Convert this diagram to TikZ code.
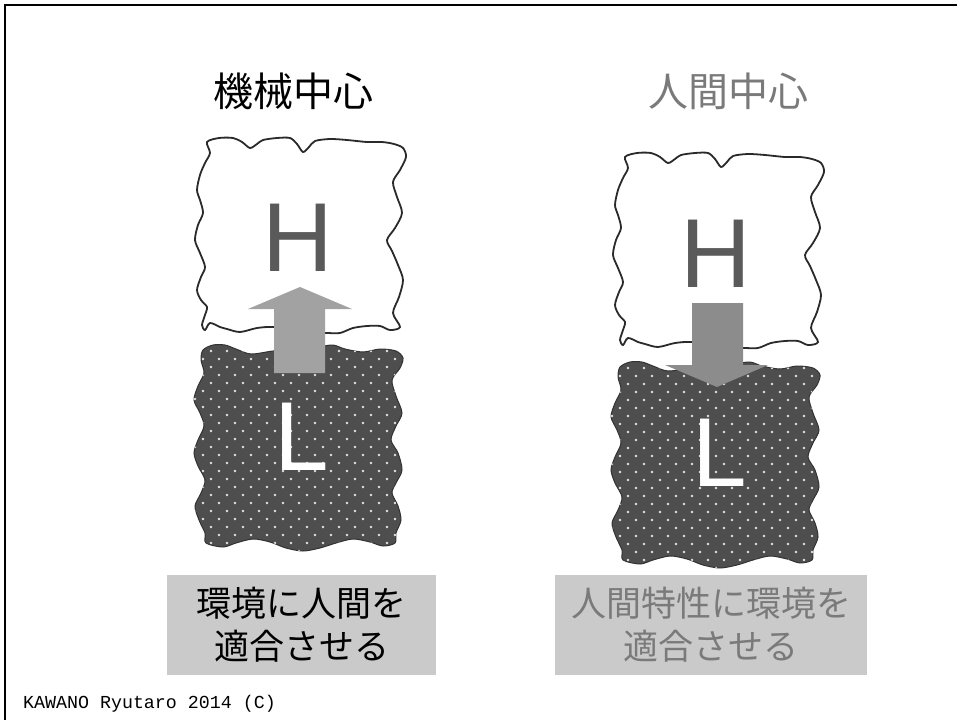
\documentclass[tikz,border=0pt]{standalone}
\usepackage{fontspec}
\newfontfamily\cjk{Noto Sans CJK JP}
\newfontfamily\letterfont{Liberation Sans}
\newfontfamily\footfont{Liberation Mono}
\definecolor{hline}{HTML}{2A2A2A}
\definecolor{lfill}{HTML}{4E4E4E}
\definecolor{lline}{HTML}{333333}
\definecolor{dotc}{HTML}{E4E4E4}
\definecolor{arrowA}{HTML}{A2A2A2}
\definecolor{arrowB}{HTML}{8C8C8C}
\definecolor{hletter}{HTML}{5A5A5A}
\definecolor{boxc}{HTML}{CACACA}
\definecolor{graytext}{HTML}{7A7A7A}
\def\Hblob{plot[smooth cycle, tension=0.5] coordinates {
 (625,157) (637,153) (651,153) (660,157) (668,163) (675,159) (681,155) (695,153) (708,153) (715,159) (721,167) (727,162) (733,156) (748,154) (765,155) (785,157) (800,157) (812,159) (821,163)
 (824,172) (818,185) (811,197) (815,212) (820,228) (813,243) (805,255) (810,266) (816,280) (821,295) (817,312) (811,328) (818,342)
 (808,345) (798,341) (785,341) (771,343) (758,348) (745,348) (735,348) (712,345) (691,342) (675,343) (658,347) (645,344) (638,342) (628,338) (623,345) (620,340)
 (623,330) (625,322) (619,315) (615,305) (619,292) (623,282) (618,268) (613,255) (616,240) (621,228) (618,215) (615,205) (618,190) (623,178) (628,168)}}
\def\Lblob{plot[smooth cycle, tension=0.5] coordinates {
 (620,367) (630,362) (642,362) (653,366) (668,371) (690,368) (715,366) (735,364) (750,362) (762,366) (780,369) (797,366) (813,368) (820,375)
 (817,385) (809,397) (813,413) (819,430) (813,443) (808,457) (815,470) (819,487) (813,500) (809,510) (815,523) (818,537) (813,550) (812,560)
 (800,563) (787,559) (770,556) (753,560) (737,565) (720,568) (703,565) (687,559) (670,556) (653,560) (640,564) (623,560)
 (622,550) (616,537) (612,523) (618,510) (622,497) (615,483) (611,470) (615,457) (621,443) (617,430) (611,417) (615,403) (621,390) (618,377)}}
\tikzset{
  hblobstyle/.style={draw=hline, line width=1.8pt, fill=white},
  lblobstyle/.style={draw=lline, line width=1pt, fill=lfill},
  title/.style={font=\cjk\fontsize{40}{48}\selectfont, inner sep=0pt},
  bigletter/.style={font=\letterfont\fontsize{98}{98}\selectfont, inner sep=0pt},
  labelbox/.style={fill=boxc, inner sep=0pt, minimum height=100, align=center,
    font=\cjk\fontsize{35}{43}\selectfont},
}
\newcommand\dotfield{%
  \foreach \j in {0,...,27}{%
    \foreach \i in {0,...,14}{%
      \fill[dotc] ({604+16*\i+8*mod(\j,2)},{360+8*\j}) circle (1.3);
    }%
  }%
}
\begin{document}
\begin{tikzpicture}[x=1pt, y=-1pt]
\useasboundingbox (0,0) rectangle (957,720);
\fill[white] (0,0) rectangle (957,720);
\draw[line width=2pt] (5,720) -- (5,5) -- (957,5);

% titles
\node[title, text=black] (t1) at (293,91) {機械中心};
\node[title, text=graytext] (t2) at (728,91) {人間中心};

% left column
\begin{scope}[shift={(-418,-15)}]
  \path[hblobstyle] \Hblob;
\end{scope}
\begin{scope}[shift={(-417,-17)}]
  \path[lblobstyle] \Lblob;
  \begin{scope}
    \clip \Lblob;
    \dotfield
  \end{scope}
\end{scope}
\fill[arrowA] (274,373) -- (274,309) -- (248,309) -- (300,287) -- (352,309) -- (325,309) -- (325,373) -- cycle;
\node[bigletter, text=hletter] (h1) at (298,238) {H};
\node[bigletter, text=white] (l1) at (302,437) {L};

% right column
\path[hblobstyle] \Hblob;
\path[lblobstyle] \Lblob;
\begin{scope}
  \clip \Lblob;
  \dotfield
\end{scope}
\fill[arrowB] (692,303) -- (743,303) -- (743,365) -- (768,365) -- (717,387) -- (665,365) -- (692,365) -- cycle;
\node[bigletter, text=hletter] (h2) at (716,254) {H};
\node[bigletter, text=white] (l2) at (720,453) {L};

% label boxes
\node[labelbox, minimum width=269, text=black] (b1) at (301.5,625) {環境に人間を\\適合させる};
\node[labelbox, minimum width=312, text=graytext] (b2) at (711,625) {人間特性に環境を\\適合させる};

% footer
\node[font=\footfont\fontsize{18.3}{20}\selectfont, anchor=base west, inner sep=0pt] (foot) at (23,708) {KAWANO Ryutaro 2014 (C)};
\end{tikzpicture}
\end{document}
